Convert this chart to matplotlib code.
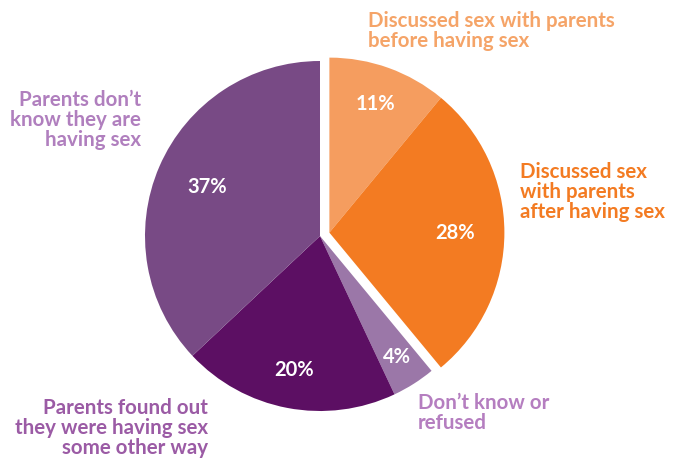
import numpy as np
import matplotlib.pyplot as plt

shares = [11, 28, 4, 20, 37]
pct_labels = ['11%', '28%', '4%', '20%', '37%']
colors = ['#f59d5f', '#f37b22', '#9b77a8', '#5c0f63', '#784a85']
names = ['Discussed sex with parents\nbefore having sex',
         'Discussed sex\nwith parents\nafter having sex',
         'Don\u2019t know or\nrefused',
         'Parents found out\nthey were having sex\nsome other way',
         'Parents don\u2019t\nknow they are\nhaving sex']
name_colors = ['#f5a468', '#f37b22', '#b57ec0', '#9b5ba5', '#b07fbe']
pct_dist = [0.78, 0.72, 0.82, 0.78, 0.70]

plt.rcParams['font.family'] = ['Lato', 'DejaVu Sans']

fig = plt.figure(figsize=(6.79, 4.61), dpi=100)
ax = fig.add_axes([0, 0, 1, 1])

wedges, texts, autotexts = ax.pie(shares, colors=colors, startangle=90, counterclock=False,
                                  radius=1, autopct='%d%%', pctdistance=1.0,
                                  wedgeprops=dict(linewidth=0))

# pull the two orange slices out together
mid = np.deg2rad(90 - (shares[0] + shares[1]) / 2 / sum(shares) * 360)
d = 0.057
dx, dy = d * np.cos(mid), d * np.sin(mid)
for i, t in enumerate(autotexts):
    x, y = t.get_position()
    x, y = x * pct_dist[i], y * pct_dist[i]
    if i in (0, 1):
        wedges[i].set_center((dx, dy))
        x, y = x + dx, y + dy
    t.set_position((x, y))
    t.set_text(pct_labels[i])
    t.set_color('white')
    t.set_fontsize(14.5)
    t.set_fontweight('bold')

# category labels
pos = [(0.274, 1.171, 'left'), (1.143, 0.251, 'left'), (0.56, -1.011, 'left'),
       (-0.64, -1.097, 'right'), (-1.023, 0.663, 'right')]
for (x, y, ha), n, c in zip(pos, names, name_colors):
    ax.text(x, y, n, ha=ha, va='center', color=c, fontsize=14.8,
            fontweight='bold', linespacing=0.98, multialignment=ha)

ax.set_xlim(-320 / 175, 359 / 175)
ax.set_ylim(-225 / 175, 236 / 175)
ax.set_aspect('equal')
ax.axis('off')

fig.savefig('out.png', dpi=100)
